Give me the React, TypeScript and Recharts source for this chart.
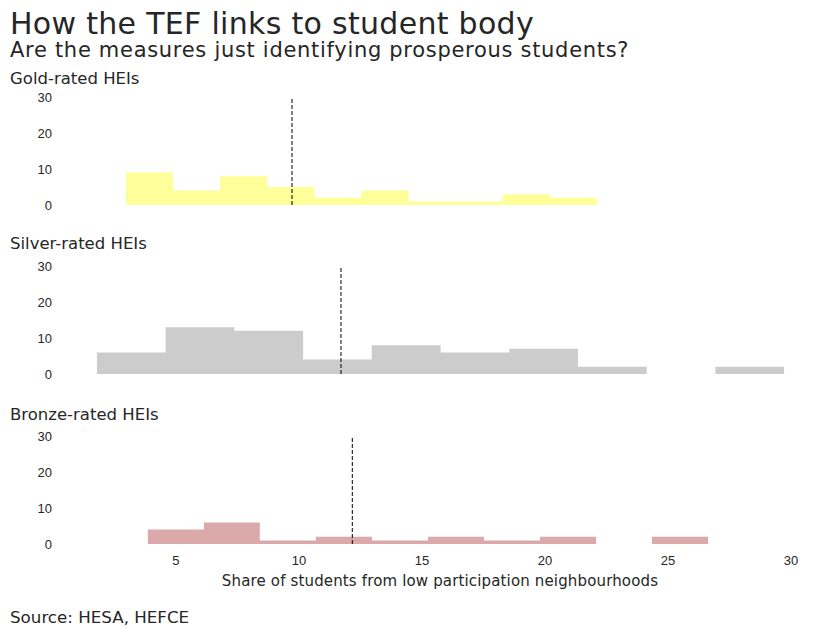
import { ComposedChart, Area, XAxis, YAxis, ReferenceLine } from 'recharts';

// bin edges (share of students, %) and counts of HEIs per bin
const goldEdges = [2.97, 4.88, 6.8, 8.71, 10.63, 12.54, 14.46, 16.37, 18.29, 20.2, 22.12];
const goldCounts = [9, 4, 8, 5, 2, 4, 1, 1, 3, 2];
const goldMean = 9.72;

const silverEdges = [1.79, 4.58, 7.38, 10.17, 12.96, 15.76, 18.55, 21.34, 24.14, 26.93, 29.72];
const silverCounts = [6, 13, 12, 4, 8, 6, 7, 2, 0, 2];
const silverMean = 11.71;

const bronzeEdges = [3.86, 6.14, 8.41, 10.69, 12.97, 15.25, 17.52, 19.8, 22.08, 24.35, 26.63];
const bronzeCounts = [4, 6, 1, 2, 1, 2, 1, 2, 0, 2];
const bronzeMean = 12.17;

const xTicks = [5, 10, 15, 20, 25, 30];
const yTicks = [0, 10, 20, 30];

const TEXT = '#262626';
const SANS = '"DejaVu Sans", sans-serif';
const TICK = { fontFamily: '"Liberation Sans", Arial, sans-serif', fontSize: 13, fill: TEXT };

type Pt = { x: number; count: number };

// step-area histogram: one point per edge, the last edge repeats the last count
const toSteps = (edges: number[], counts: number[]): Pt[] =>
  edges.map((e, i) => ({ x: e, count: counts[Math.min(i, counts.length - 1)] }));

type PanelProps = {
  edges: number[];
  counts: number[];
  mean: number;
  color: string;
  top: number;
  showX?: boolean;
};

const Panel = ({ edges, counts, mean, color, top, showX }: PanelProps) => {
  const h = showX ? 148 : 128;
  return (
    <div style={{ position: 'absolute', left: 0, top }}>
      <ComposedChart
        width={828}
        height={h}
        data={toSteps(edges, counts)}
        margin={{ top: 10, right: 9.5, left: 0, bottom: showX ? 0 : 10 }}
      >
        <XAxis
          type="number"
          dataKey="x"
          domain={[0.37, 31.12]}
          ticks={xTicks}
          allowDataOverflow
          hide={!showX}
          height={30}
          axisLine={false}
          tickLine={false}
          tickSize={0}
          tickMargin={12}
          tick={TICK}
        />
        <YAxis
          type="number"
          domain={[0, 30]}
          ticks={yTicks}
          width={62}
          axisLine={false}
          tickLine={false}
          tickSize={0}
          tickMargin={10}
          tick={TICK}
        />
        <Area
          type="stepAfter"
          dataKey="count"
          stroke="none"
          fill={color}
          fillOpacity={1}
          isAnimationActive={false}
        />
        <ReferenceLine x={mean} stroke="#000" strokeWidth={1} strokeDasharray="4 2" />
      </ComposedChart>
    </div>
  );
};

const label = (text: string, top: number, size: number, extra: React.CSSProperties = {}) => (
  <div
    style={{
      position: 'absolute',
      left: 10,
      top,
      fontFamily: SANS,
      fontSize: size,
      lineHeight: 1,
      color: TEXT,
      whiteSpace: 'nowrap',
      ...extra,
    }}
  >
    {text}
  </div>
);

export default function App() {
  return (
    <div style={{ position: 'absolute', left: 0, top: 0, width: 828, height: 636, background: '#fff' }}>
      {label('How the TEF links to student body', 8.6, 30, { letterSpacing: 0.3 })}
      {label('Are the measures just identifying prosperous students?', 39.5, 21, { letterSpacing: 0.7 })}
      {label('Gold-rated HEIs', 71, 16.5)}
      <Panel edges={goldEdges} counts={goldCounts} mean={goldMean} color="#ffff99" top={87} />
      {label('Silver-rated HEIs', 236, 16.5)}
      <Panel edges={silverEdges} counts={silverCounts} mean={silverMean} color="#cccccc" top={256} />
      {label('Bronze-rated HEIs', 406.7, 16.5)}
      <Panel edges={bronzeEdges} counts={bronzeCounts} mean={bronzeMean} color="#dba9a9" top={426} showX />
      {label('Share of students from low participation neighbourhoods', 574, 15, {
        left: 62,
        width: 756,
        textAlign: 'center',
        letterSpacing: 0.15,
      })}
      {label('Source: HESA, HEFCE', 608.6, 16.7)}
    </div>
  );
}
